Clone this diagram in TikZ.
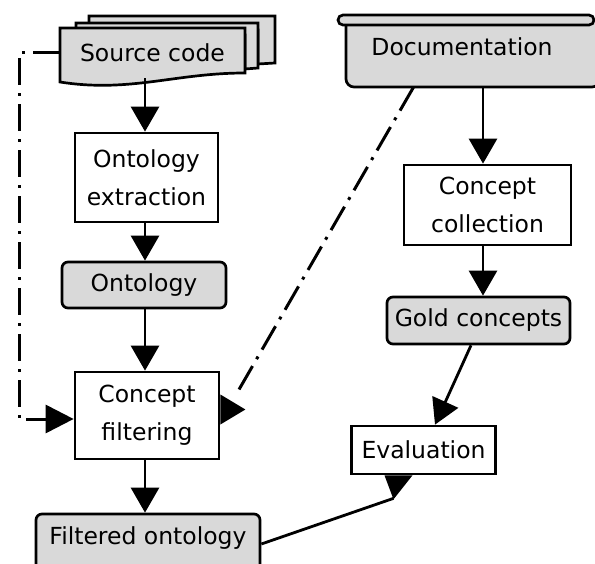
\documentclass[tikz,border=0pt]{standalone}
\usepackage{fontspec}
\setmainfont{DejaVu Sans}
\usetikzlibrary{arrows.meta,calc}
\definecolor{shade}{HTML}{D9D9D9}
\begin{document}
\begin{tikzpicture}[x=1pt,y=-1pt,
  font=\fontsize{23.5}{38}\selectfont,
  box/.style={draw, line width=2.7pt, fill=white, align=center, inner sep=0pt},
  gbox/.style={box, fill=shade, rounded corners=6pt},
  arr/.style={line width=2.8pt, -{Triangle[length=25pt,width=28pt]}},
  dashdot/.style={line width=3pt, dash pattern=on 27pt off 8pt on 3pt off 8pt},
  tip/.style={fill=black}]
\useasboundingbox (0,0) rectangle (595,564);

% Source code: stacked documents
\draw[line width=2.7pt, fill=shade] (89,16) -- (275,16) -- (275,63) -- (258,64) -- (258,30) -- (89,30) -- cycle;
\draw[line width=2.7pt, fill=shade] (76,23) -- (258,23) -- (258,68) -- (245,69) -- (245,35) -- (76,35) -- cycle;
\draw[line width=2.7pt, fill=shade] (60,28) -- (245,28) -- (245,73)
  .. controls (175,73) and (130,93) .. (60,82) -- cycle;
\node[minimum width=185pt, minimum height=50pt, inner sep=0pt] (src) at (152.5,53) {Source code};

% Documentation: rolled banner
\draw[line width=2.7pt, fill=shade, rounded corners=8pt] (346,20) -- (346,87) -- (600,87) -- (600,20);
\draw[line width=2.7pt, fill=shade, rounded corners=5pt] (338,15) rectangle (594,25);
\node[minimum width=251pt, minimum height=62pt, inner sep=0pt] (doc) at (471.5,56) {};
\node (doclabel) at (462,47) {Documentation};

% Process steps and data items
\node[box, minimum width=143pt, minimum height=89pt] (oe) at (146.5,177.5) {Ontology\\extraction};
\node[gbox, minimum width=164pt, minimum height=46pt] (onto) at (144,285) {Ontology};
\node[box, minimum width=144pt, minimum height=87pt] (cf) at (147,415.5) {Concept\\filtering};
\node[gbox, minimum width=224pt, minimum height=60pt] (fo) at (148,544)
  {\raisebox{6pt}[\height][\depth]{Filtered ontology}};
\node[box, minimum width=167pt, minimum height=80pt] (cc) at (487.5,205) {Concept\\collection};
\node[gbox, minimum width=183pt, minimum height=47pt] (gold) at (478.5,320.5) {Gold concepts};
\node[box, minimum width=144pt, minimum height=48pt] (eval) at (423.5,450) {Evaluation};

% Main flow
\draw[arr] ($(src.south)+(-7.5,0)$) -- (oe.north -| 145,0);
\draw[arr] (oe.south -| 145,0) -- (onto.north -| 145,0);
\draw[arr] (onto.south -| 145,0) -- (cf.north -| 145,0);
\draw[arr] (cf.south -| 145,0) -- (fo.north -| 145,0);
\draw[arr] ($(doc.south)+(11.5,0)$) -- ($(cc.north)+(-4.5,0)$);
\draw[arr] ($(cc.south)+(-4.5,0)$) -- ($(gold.north)+(4.5,0)$);
\draw[arr] ($(gold.south)+(-7.5,0)$) -- ($(eval.north)+(11.5,0)$);

% Filtered ontology into evaluation
\coordinate (fe) at ($(eval.south)+(-30,23)$);
\draw[line width=2.8pt] (fo.east) -- (fe);
\fill[tip] ($(eval.south)+(-39,0)$) -- ($(eval.south)+(-11,0)$) -- ($(fe)+(0,1)$) -- cycle;

% Dash-dotted links into concept filtering
\coordinate (lc) at (19,419);
\draw[dashdot, -{Triangle[length=28pt,width=28pt]}] (src.west) -| (lc) -- (lc -| cf.west);
\coordinate (dc) at (237,393);
\draw[dashdot] ($(doc.south)+(-58,0)$) -- (dc);
\fill[tip] ($(cf.east)+(0,-21)$) -- ($(cf.east)+(0,9)$) -- ($(cf.east)+(25,-6)$) -- cycle;
\end{tikzpicture}
\end{document}
